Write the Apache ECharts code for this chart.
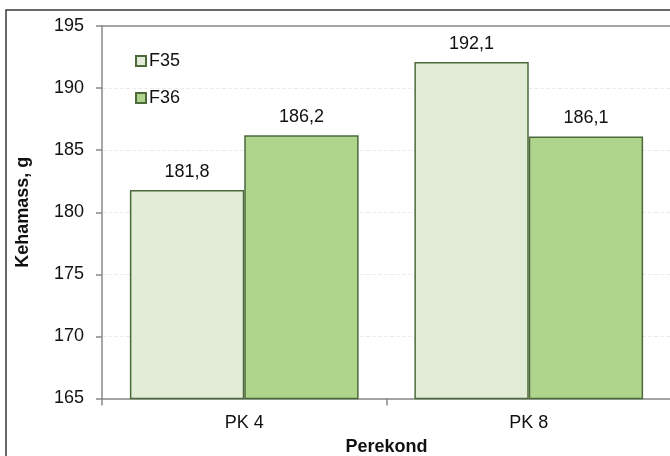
<!DOCTYPE html>
<html>
<head>
<meta charset="utf-8">
<script src="https://cdn.jsdelivr.net/npm/echarts@6/dist/echarts.min.js"></script>
<style>
html,body{margin:0;padding:0;background:#fff;}
#c1{width:670px;height:456px;}
</style>
</head>
<body>
<div id="c1"></div>
<script>
// andmed
var categories = ['PK 4', 'PK 8'];
var seriesNames = ['F35', 'F36'];
var f35 = [181.8, 192.1];
var f36 = [186.2, 186.1];
var yTicks = [165, 170, 175, 180, 185, 190, 195];

var fonts = '"Liberation Sans", Arial, sans-serif';
var colors = ['#e3ecd6', '#afd48b'];
var edge = '#4d6a3c';

function comma(p){
  return p.value.toFixed(1).replace('.', ',');
}

var chart = echarts.init(document.getElementById('c1'));
var option = {
  animation: false,
  textStyle: {fontFamily: fonts},
  graphic: [{
    type: 'rect',
    shape: {x: 6, y: 10, width: 720, height: 500},
    style: {fill: 'none', stroke: '#3a3a3a', lineWidth: 1.5},
    silent: true
  }],
  grid: {left: 102, right: -1, top: 26, bottom: 57.5, containLabel: false, outerBoundsMode: 'none'},
  legend: {
    orient: 'vertical',
    left: 130,
    top: 47,
    itemWidth: 10,
    itemHeight: 10,
    itemGap: 19,
    icon: 'rect',
    data: seriesNames,
    textStyle: {fontFamily: fonts, fontSize: 18, color: '#111', padding: [0, 0, 0, -2]}
  },
  xAxis: [{
    type: 'category',
    data: categories,
    name: 'Perekond',
    nameLocation: 'middle',
    nameGap: 40,
    nameTextStyle: {fontFamily: fonts, fontSize: 18, fontWeight: 'bold', color: '#111'},
    axisLine: {lineStyle: {color: '#888', width: 1.5}},
    axisTick: {show: true, length: 7, lineStyle: {color: '#888', width: 1.5}},
    axisLabel: {fontFamily: fonts, fontSize: 18, color: '#111', margin: 16}
  }, {
    type: 'category',
    data: categories,
    position: 'top',
    axisLine: {lineStyle: {color: '#888', width: 1.5}},
    axisTick: {show: false},
    axisLabel: {show: false}
  }],
  yAxis: {
    type: 'value',
    min: yTicks[0],
    max: yTicks[yTicks.length - 1],
    interval: 5,
    name: 'Kehamass, g',
    nameLocation: 'middle',
    nameRotate: 90,
    nameGap: 70,
    nameTextStyle: {fontFamily: fonts, fontSize: 18, fontWeight: 'bold', color: '#111'},
    axisLine: {show: true, lineStyle: {color: '#888', width: 1.5}},
    axisTick: {show: true, length: 6, lineStyle: {color: '#888', width: 1.5}},
    axisLabel: {fontFamily: fonts, fontSize: 18, color: '#111', margin: 18},
    splitLine: {show: true, lineStyle: {color: '#ececec', type: 'dashed'}}
  },
  series: [{
    name: seriesNames[0],
    type: 'bar',
    data: f35,
    barGap: '0%',
    barCategoryGap: '19.6%',
    itemStyle: {color: colors[0], borderColor: edge, borderWidth: 1.5},
    label: {show: true, position: 'top', distance: 9, formatter: comma,
            fontFamily: fonts, fontSize: 18, color: '#111'}
  }, {
    name: seriesNames[1],
    type: 'bar',
    data: f36,
    itemStyle: {color: colors[1], borderColor: edge, borderWidth: 1.5},
    label: {show: true, position: 'top', distance: 9, formatter: comma,
            fontFamily: fonts, fontSize: 18, color: '#111'}
  }]
};
chart.setOption(option);
</script>
</body>
</html>
